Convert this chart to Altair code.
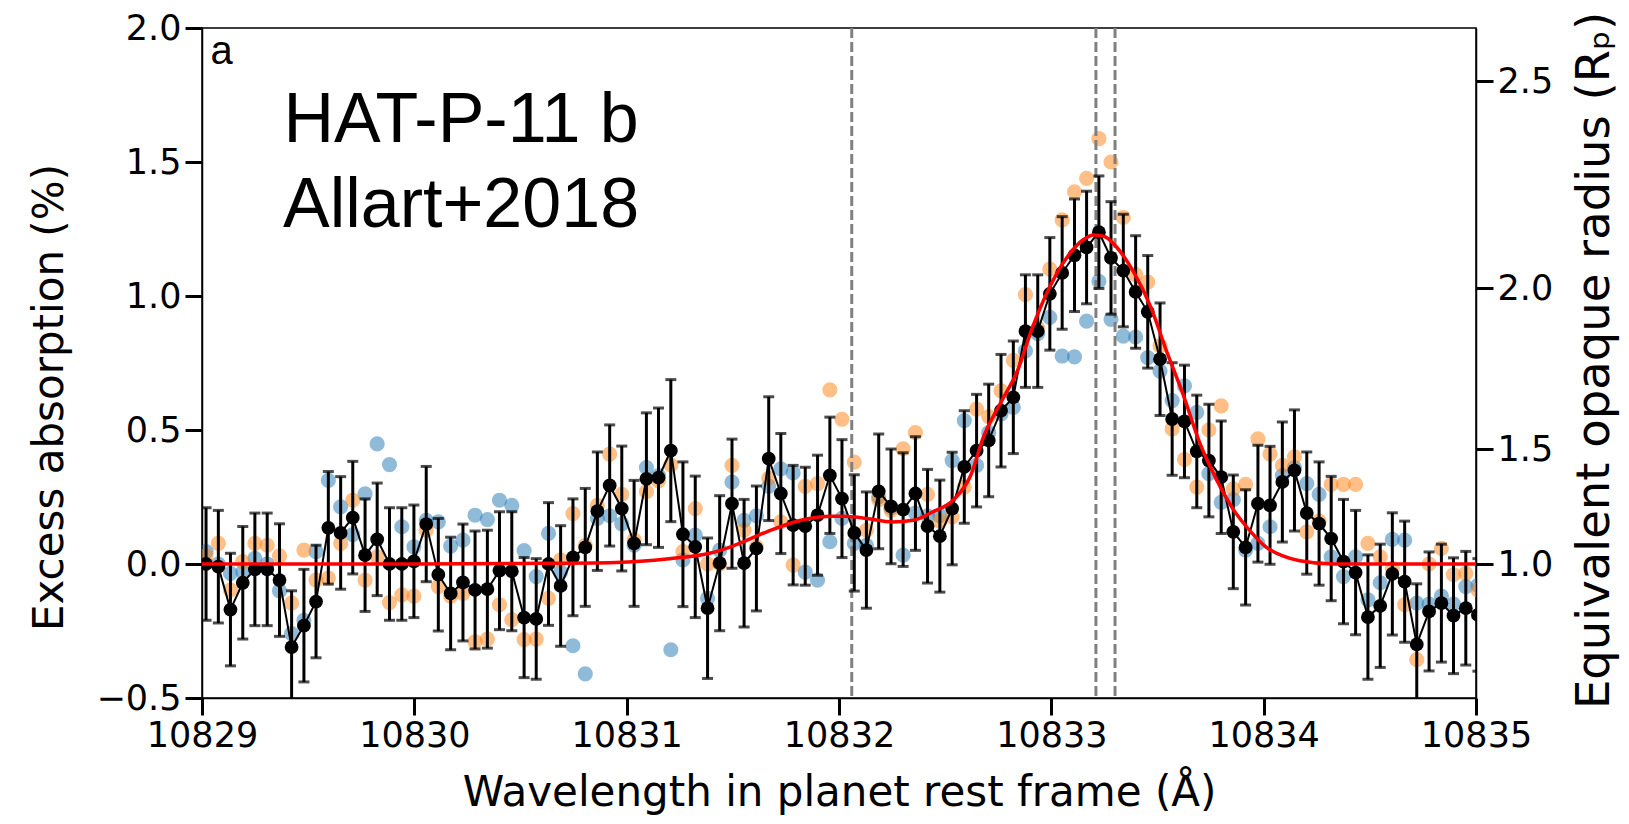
import altair as alt
import pandas as pd

# ---------------- data ----------------
wavelength = [
    10829.019, 10829.077, 10829.134, 10829.192, 10829.249, 10829.307, 10829.365, 10829.422, 10829.480, 10829.537,
    10829.595, 10829.653, 10829.710, 10829.768, 10829.825, 10829.883, 10829.941, 10829.998, 10830.056, 10830.113,
    10830.171, 10830.229, 10830.286, 10830.344, 10830.401, 10830.459, 10830.517, 10830.574, 10830.632, 10830.689,
    10830.747, 10830.805, 10830.862, 10830.920, 10830.977, 10831.035, 10831.093, 10831.150, 10831.208, 10831.265,
    10831.323, 10831.381, 10831.438, 10831.496, 10831.553, 10831.611, 10831.669, 10831.726, 10831.784, 10831.841,
    10831.899, 10831.957, 10832.014, 10832.072, 10832.129, 10832.187, 10832.245, 10832.302, 10832.360, 10832.417,
    10832.475, 10832.533, 10832.590, 10832.648, 10832.705, 10832.763, 10832.821, 10832.878, 10832.936, 10832.993,
    10833.051, 10833.109, 10833.166, 10833.224, 10833.281, 10833.339, 10833.397, 10833.454, 10833.512, 10833.569,
    10833.627, 10833.685, 10833.742, 10833.800, 10833.857, 10833.915, 10833.973, 10834.030, 10834.088, 10834.145,
    10834.203, 10834.261, 10834.318, 10834.376, 10834.433, 10834.491, 10834.549, 10834.606, 10834.664, 10834.721,
    10834.779, 10834.837, 10834.894, 10834.952, 10835.009,
]

excess_mean = [
    0.00, -0.01, -0.17, -0.07, -0.02, -0.02, -0.06, -0.31, -0.23, -0.14,
    0.135, 0.116, 0.173, 0.033, 0.092, 0.00, 0.00, 0.01, 0.149, -0.04,
    -0.11, -0.069, -0.097, -0.094, -0.025, -0.027, -0.20, -0.205, 0.00, -0.082,
    0.025, 0.062, 0.197, 0.293, 0.207, 0.077, 0.318, 0.322, 0.423, 0.111,
    0.064, -0.165, 0.003, 0.225, 0.003, 0.058, 0.393, 0.263, 0.145, 0.141,
    0.182, 0.331, 0.244, 0.116, 0.052, 0.271, 0.215, 0.203, 0.263, 0.141,
    0.104, 0.207, 0.362, 0.423, 0.461, 0.572, 0.622, 0.869, 0.869, 1.008,
    1.086, 1.152, 1.181, 1.238, 1.142, 1.095, 1.015, 0.941, 0.764, 0.541,
    0.532, 0.42, 0.386, 0.324, 0.12, 0.062, 0.225, 0.219, 0.306, 0.349,
    0.19, 0.151, 0.095, 0.009, -0.032, -0.198, -0.156, -0.037, -0.066, -0.30,
    -0.177, -0.146, -0.193, -0.165, -0.19,
]

excess_err = [
    0.21, 0.21, 0.21, 0.21, 0.21, 0.21, 0.21, 0.21, 0.21, 0.21,
    0.21, 0.21, 0.21, 0.21, 0.21, 0.21, 0.21, 0.21, 0.215, 0.21,
    0.21, 0.218, 0.22, 0.22, 0.22, 0.222, 0.224, 0.225, 0.229, 0.225,
    0.218, 0.22, 0.221, 0.226, 0.233, 0.235, 0.246, 0.26, 0.265, 0.27,
    0.264, 0.262, 0.252, 0.241, 0.238, 0.233, 0.231, 0.224, 0.223, 0.22,
    0.224, 0.217, 0.22, 0.217, 0.217, 0.214, 0.214, 0.212, 0.212, 0.212,
    0.209, 0.21, 0.21, 0.21, 0.21, 0.21, 0.21, 0.21, 0.21, 0.21,
    0.21, 0.21, 0.21, 0.21, 0.21, 0.21, 0.21, 0.21, 0.21, 0.21,
    0.21, 0.21, 0.21, 0.21, 0.212, 0.215, 0.218, 0.22, 0.224, 0.226,
    0.228, 0.23, 0.232, 0.232, 0.232, 0.232, 0.23, 0.228, 0.226, 0.226,
    0.222, 0.22, 0.216, 0.212, 0.21,
]

transit_blue = [
    0.046, 0.0, -0.035, -0.03, 0.021, 0.0, -0.10, -0.26, -0.21, 0.046,
    0.312, 0.213, 0.11, 0.262, 0.448, 0.371, 0.139, 0.064, 0.163, 0.157,
    0.067, 0.089, 0.182, 0.166, 0.238, 0.219, 0.05, -0.047, 0.114, -0.03,
    -0.305, -0.41, 0.17, 0.18, 0.15, 0.07, 0.36, 0.33, -0.32, 0.015,
    0.108, -0.128, 0.052, 0.306, 0.163, 0.18, 0.29, 0.355, 0.34, -0.03,
    -0.06, 0.083, 0.17, 0.077, 0.07, 0.25, 0.21, 0.033, 0.19, 0.18,
    0.18, 0.386, 0.535, 0.368, 0.49, 0.56, 0.584, 0.795, 0.86, 0.92,
    0.776, 0.773, 0.906, 1.055, 0.913, 0.85, 0.847, 0.77, 0.72, 0.61,
    0.665, 0.566, 0.337, 0.23, 0.24, 0.052, 0.077, 0.139, 0.33, 0.36,
    0.30, 0.26, 0.027, -0.047, 0.027, -0.134, -0.07, 0.092, 0.089, -0.146,
    -0.15, -0.12, -0.15, -0.084, -0.08,
]

transit_orange = [
    0.03, 0.077, -0.097, 0.009, 0.077, 0.07, 0.03, -0.146, 0.052, -0.06,
    -0.053, 0.077, 0.238, -0.06, 0.027, -0.144, -0.115, -0.12, 0.126, -0.084,
    -0.12, -0.11, -0.29, -0.28, -0.152, -0.208, -0.282, -0.28, -0.128, 0.015,
    0.188, 0.07, 0.219, 0.41, 0.26, 0.09, 0.27, 0.31, 0.37, 0.046,
    0.207, 0.0, 0.0, 0.368, 0.126, 0.064, 0.32, 0.157, -0.004, 0.29,
    0.30, 0.65, 0.54, 0.38, 0.126, 0.24, 0.2, 0.43, 0.49, 0.26,
    0.16, 0.176, 0.287, 0.578, 0.55, 0.646, 0.76, 1.005, 0.88, 1.10,
    1.284, 1.389, 1.439, 1.587, 1.50, 1.293, 1.08, 1.052, 0.814, 0.504,
    0.39, 0.287, 0.50, 0.59, 0.28, 0.297, 0.467, 0.41, 0.368, 0.40,
    0.12, 0.16, 0.297, 0.297, 0.297, 0.077, 0.027, -0.016, -0.152, -0.357,
    0.0, 0.058, -0.04, -0.035, -0.097,
]

model_wavelength = [
    10829.0, 10830.0, 10830.5, 10830.95, 10831.2, 10831.39, 10831.5, 10831.66, 10831.82, 10831.97,
    10832.02, 10832.13, 10832.25, 10832.35, 10832.44, 10832.54, 10832.62, 10832.68, 10832.76, 10832.84,
    10832.91, 10832.99, 10833.07, 10833.15, 10833.20, 10833.25, 10833.31, 10833.39, 10833.47, 10833.54,
    10833.62, 10833.70, 10833.78, 10833.86, 10833.94, 10834.01, 10834.09, 10834.17, 10834.33, 10835.0,
]
model_excess = [
    0.0, 0.0, 0.002, 0.006, 0.02, 0.04, 0.067, 0.12, 0.163, 0.178,
    0.178, 0.17, 0.157, 0.163, 0.194, 0.24, 0.33, 0.473, 0.6, 0.72,
    0.88, 1.03, 1.14, 1.21, 1.228, 1.222, 1.18, 1.086, 0.956, 0.80,
    0.634, 0.45, 0.312, 0.20, 0.12, 0.064, 0.03, 0.012, 0.0, 0.0,
]

helium_lines = [10832.06, 10833.21, 10833.30]

x_ticks = [10829, 10830, 10831, 10832, 10833, 10834, 10835]
y_ticks = [-0.5, 0.0, 0.5, 1.0, 1.5, 2.0]
radius_ticks = [1.0, 1.5, 2.0, 2.5]
RADIUS_FACTOR = 0.343  # excess absorption (%) = factor * (R^2 - 1)

annot_text = ["HAT-P-11 b", "Allart+2018"]
annot_x = [10830.22, 10830.22]
annot_y = [1.575, 1.259]

# ---------------- tables ----------------
df = pd.DataFrame({
    "w": wavelength, "y": excess_mean, "err": excess_err,
    "blue": transit_blue, "orange": transit_orange,
})
df["lo"] = df["y"] - df["err"]
df["hi"] = df["y"] + df["err"]

model_df = pd.DataFrame({"w": model_wavelength, "y": model_excess})
lines_df = pd.DataFrame({"w": helium_lines})
annot_df = pd.DataFrame({"w": annot_x, "y": annot_y, "t": annot_text})
panel_df = pd.DataFrame({"w": [10829.04], "y": [1.865], "t": ["a"]})
radius_pos = [RADIUS_FACTOR * (r * r - 1) for r in radius_ticks]
radius_df = pd.DataFrame({"w": [10835.0] * len(radius_pos), "y": radius_pos})

FONT = "DejaVu Sans"
xscale = alt.Scale(domain=[10829, 10835], nice=False, zero=False)
yscale = alt.Scale(domain=[-0.5, 2.0], nice=False, zero=False)

x_axis = alt.Axis(values=x_ticks, format="d", title="Wavelength in planet rest frame (Å)",
                  orient="bottom", labelPadding=3, titleBaseline="alphabetic", titleY=107,
                  labelOverlap=False, labelFlush=False)
y_axis = alt.Axis(values=y_ticks, format=".1f", title="Excess absorption (%)", orient="left",
                  labelPadding=4, titleAngle=270, titleBaseline="alphabetic",
                  titleX=-140, titleY=369, labelOverlap=False, labelFlush=False)
r_axis = alt.Axis(orient="right", values=radius_pos,
                  labelExpr=f"format(sqrt(1 + datum.value / {RADIUS_FACTOR}), '.1f')",
                  title="Equivalent opaque radius (Rₚ)", labelPadding=4,
                  titleAngle=270, titleBaseline="alphabetic", titleX=132, titleY=332,
                  titleFontSize=46.5, labelOverlap=False, labelFlush=False)

# identical x axis definition on every layer so that the shared axis merges cleanly
X = alt.X("w:Q", scale=xscale, axis=x_axis)


def Yn(field):
    return alt.Y(field, scale=yscale, axis=None)


base = alt.Chart(df)

blue_pts = base.mark_circle(size=230, color="#1f77b4", opacity=0.5, clip=True).encode(
    x=X, y=alt.Y("blue:Q", scale=yscale, axis=y_axis))
orange_pts = base.mark_circle(size=230, color="#ff7f0e", opacity=0.5, clip=True).encode(
    x=X, y=Yn("orange:Q"))
vlines = alt.Chart(lines_df).mark_rule(color="#808080", strokeWidth=3, strokeDash=[10, 4]).encode(
    x=X)
mean_line = base.mark_line(color="black", strokeWidth=2, clip=True).encode(
    x=X, y=Yn("y:Q"))
err_rules = base.mark_rule(color="black", strokeWidth=3, clip=True).encode(
    x=X, y=Yn("lo:Q"), y2="hi:Q")
cap_lo = base.mark_tick(color="black", thickness=3, size=11, orient="horizontal", clip=True).encode(
    x=X, y=Yn("lo:Q"))
cap_hi = base.mark_tick(color="black", thickness=3, size=11, orient="horizontal", clip=True).encode(
    x=X, y=Yn("hi:Q"))
mean_pts = base.mark_circle(size=190, color="black", opacity=1, clip=True).encode(
    x=X, y=Yn("y:Q"))
model = alt.Chart(model_df).mark_line(color="#ff0000", strokeWidth=3.5, interpolate="monotone").encode(
    x=X, y=Yn("y:Q"))
annot = alt.Chart(annot_df).mark_text(font="Liberation Sans", fontSize=70, align="center",
                                      baseline="alphabetic", color="black").encode(
    x=X, y=Yn("y:Q"), text="t:N")
panel = alt.Chart(panel_df).mark_text(font="Liberation Sans", fontSize=40, align="left",
                                      baseline="alphabetic", color="black").encode(
    x=X, y=Yn("y:Q"), text="t:N")
right_axis = alt.Chart(radius_df).mark_point(opacity=0).encode(
    x=X, y=alt.Y("y:Q", scale=yscale, axis=r_axis))

chart = alt.layer(
    blue_pts, orange_pts, vlines, mean_line, err_rules, cap_lo, cap_hi,
    mean_pts, model, annot, panel, right_axis,
).resolve_scale(y="independent").properties(
    width=1274, height=670,
    autosize=alt.AutoSizeParams(type="none"),
    padding={"left": 194, "top": 20, "right": 145, "bottom": 118},
).configure_view(stroke="black", strokeWidth=1.5).configure_axis(
    grid=False, domainColor="black", domainWidth=1.5, tickColor="black", tickWidth=3,
    tickSize=17, labelFont=FONT, labelFontSize=35, labelColor="black",
    titleFont=FONT, titleFontSize=42, titleFontWeight="normal", titleColor="black",
)

chart.save("out.html", embed_options={"renderer": "svg", "actions": False})
